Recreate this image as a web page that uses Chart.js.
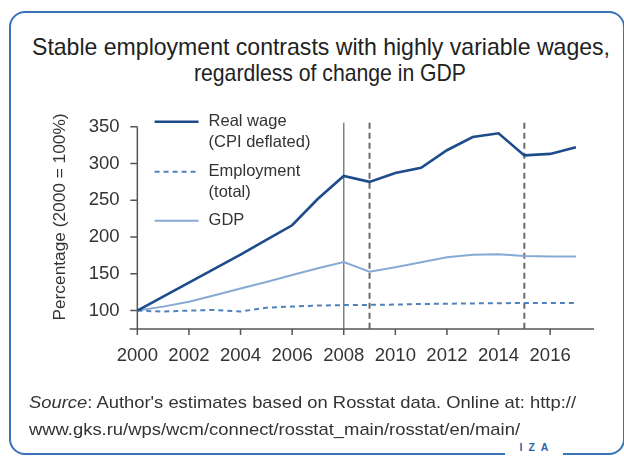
<!DOCTYPE html>
<html>
<head>
<meta charset="utf-8">
<script src="https://cdn.jsdelivr.net/npm/chart.js@4/dist/chart.umd.min.js"></script>
<style>
  html, body { margin: 0; padding: 0; background: #fff; }
  body { width: 624px; height: 458px; position: relative; overflow: hidden; }
  #frame {
    position: absolute; left: 9px; top: 11px; width: 612px; height: 440px;
    border: 2px solid #3a72b8; border-radius: 16px; box-sizing: content-box;
  }
  .fit {
    position: absolute; white-space: nowrap; transform-origin: 0 0;
    font-family: "Liberation Sans", Arial, sans-serif; color: #333;
  }
  .title { font-size: 24px; line-height: 28px; color: #222; }
  .src { font-size: 17px; line-height: 20px; }
  #logo {
    position: absolute; left: 505px; top: 440px; width: 58px; height: 16px;
    background: #fff; text-align: center;
    font-family: "Liberation Sans", sans-serif; font-weight: bold;
    font-size: 10.5px; letter-spacing: 6px; color: #2f62a8; line-height: 12px;
    padding-left: 6px; padding-top: 1px; box-sizing: border-box;
  }
  canvas { position: absolute; left: 0; top: 0; }
</style>
</head>
<body>
<div id="frame"></div>
<div class="fit title" data-left="32" data-top="33" data-width="578">Stable employment contrasts with highly variable wages,</div>
<div class="fit title" data-left="194" data-top="59" data-width="272">regardless of change in GDP</div>
<canvas id="chart" width="624" height="458"></canvas>
<div class="fit src" data-left="29" data-top="393" data-width="547"><i>Source</i>: Author's estimates based on Rosstat data. Online at: http://</div>
<div class="fit src" data-left="29" data-top="420" data-width="491">www.gks.ru/wps/wcm/connect/rosstat_main/rosstat/en/main/</div>
<div id="logo">IZA</div>
<script>
// Index values, 2000 = 100
const years = [2000, 2001, 2002, 2003, 2004, 2005, 2006, 2007, 2008,
               2009, 2010, 2011, 2012, 2013, 2014, 2015, 2016, 2017];
const realWage = [100, 119, 138, 157, 176, 196, 216, 252, 283,
                  275, 287, 294, 318, 336, 341, 311, 313, 322];
const employment = [100, 98.7, 100, 100.9, 98.7, 104, 105.5, 106.9, 107.5,
                    107.8, 108.2, 109, 109.4, 109.8, 110, 110.5, 110.5, 110.5];
const gdp = [100, 105.4, 112, 121, 130, 139, 148.5, 157.6, 166,
             153, 159, 165.7, 172.5, 176, 176.6, 174.3, 173.4, 173.4];

const seriesLabels = ["Real wage\n(CPI deflated)", "Employment\n(total)", "GDP"];
const xTickYears = [2000, 2002, 2004, 2006, 2008, 2010, 2012, 2014, 2016];
const yTickValues = [100, 150, 200, 250, 300, 350];
const markerYears = [2008, 2009, 2015];
const markerDashed = [false, true, true];
const yAxisTitle = "Percentage (2000 = 100%)";

const FONT = "'Liberation Sans', Arial, sans-serif";
const TEXT = "#333";

// Place each text line and stretch it to its line width
document.querySelectorAll(".fit").forEach(el => {
  el.style.left = el.dataset.left + "px";
  el.style.top = el.dataset.top + "px";
  const w = el.getBoundingClientRect().width;
  el.style.transform = "scaleX(" + (parseFloat(el.dataset.width) / w) + ")";
});

const toPoints = arr => years.map((y, i) => ({ x: y, y: arr[i] }));

// Axis lines, tick marks and the vertical event markers
const axesPlugin = {
  id: "axesLines",
  beforeDatasetsDraw(chart) {
    const { ctx, chartArea: a, scales: { x, y } } = chart;
    ctx.save();
    markerYears.forEach((yr, i) => {
      const px = x.getPixelForValue(yr);
      ctx.beginPath();
      if (markerDashed[i]) {
        ctx.setLineDash([6, 4]);
        ctx.strokeStyle = "#6a6a6a";
        ctx.lineWidth = 2;
      } else {
        ctx.setLineDash([]);
        ctx.strokeStyle = "#808080";
        ctx.lineWidth = 1.5;
      }
      ctx.moveTo(px, a.top - 4);
      ctx.lineTo(px, a.bottom);
      ctx.stroke();
    });
    ctx.setLineDash([]);
    ctx.strokeStyle = "#555";
    ctx.lineWidth = 1.5;
    const x0 = x.getPixelForValue(years[0]);
    ctx.beginPath();
    ctx.moveTo(x0, y.getPixelForValue(yTickValues[yTickValues.length - 1]));
    ctx.lineTo(x0, a.bottom);
    yTickValues.forEach(v => {
      const py = y.getPixelForValue(v);
      ctx.moveTo(x0 - 7, py);
      ctx.lineTo(x0, py);
    });
    ctx.moveTo(a.left, a.bottom);
    ctx.lineTo(a.right, a.bottom);
    xTickYears.forEach(v => {
      const px = x.getPixelForValue(v);
      ctx.moveTo(px, a.bottom);
      ctx.lineTo(px, a.bottom + 6);
    });
    ctx.stroke();
    // rotated y axis title
    ctx.translate(60, 217);
    ctx.rotate(-Math.PI / 2);
    ctx.font = "17.3px " + FONT;
    ctx.fillStyle = TEXT;
    ctx.textAlign = "center";
    ctx.textBaseline = "middle";
    ctx.fillText(yAxisTitle, 0, 0);
    ctx.restore();
  }
};

// Legend with multi-line labels placed inside the plot
const legendPlugin = {
  id: "innerLegend",
  afterDraw(chart) {
    const { ctx, chartArea: a } = chart;
    const rows = [a.top - 5, a.top + 45, a.top + 94];
    ctx.save();
    chart.data.datasets.forEach((ds, i) => {
      const ly = rows[i];
      ctx.beginPath();
      ctx.strokeStyle = ds.borderColor;
      ctx.lineWidth = ds.borderWidth;
      ctx.setLineDash(ds.borderDash || []);
      ctx.moveTo(a.left + 25, ly);
      ctx.lineTo(a.left + 69, ly);
      ctx.stroke();
      ctx.setLineDash([]);
      ctx.font = "16.5px " + FONT;
      ctx.fillStyle = TEXT;
      ctx.textBaseline = "middle";
      ds.label.split("\n").forEach((t, j) => {
        ctx.fillText(t, a.left + 79, ly + j * 21);
      });
    });
    ctx.restore();
  }
};

new Chart(document.getElementById("chart"), {
  type: "line",
  data: {
    datasets: [
      { label: seriesLabels[0], data: toPoints(realWage), borderColor: "#1d4b8c",
        borderWidth: 2.6, pointRadius: 0, tension: 0 },
      { label: seriesLabels[1], data: toPoints(employment), borderColor: "#4f81bd",
        borderWidth: 2, borderDash: [5, 4], pointRadius: 0, tension: 0 },
      { label: seriesLabels[2], data: toPoints(gdp), borderColor: "#86aad3",
        borderWidth: 2, pointRadius: 0, tension: 0 }
    ]
  },
  options: {
    responsive: false,
    animation: false,
    layout: { padding: { left: 45, top: 126.7, right: 30, bottom: 0 } },
    plugins: { legend: { display: false }, tooltip: { enabled: false } },
    scales: {
      x: {
        type: "linear", min: 1999.7, max: 2017.7,
        afterBuildTicks: s => { s.ticks = xTickYears.map(v => ({ value: v })); },
        afterFit: s => { s.height = 129; },
        grid: { display: false, drawTicks: false },
        border: { display: false },
        ticks: { callback: v => String(v), font: { size: 18.5, family: FONT }, color: TEXT, padding: 16, maxRotation: 0 }
      },
      y: {
        min: 75, max: 350,
        afterBuildTicks: s => { s.ticks = yTickValues.map(v => ({ value: v })); },
        afterFit: s => { s.width = 84.6; },
        grid: { display: false, drawTicks: false },
        border: { display: false },
        ticks: { font: { size: 18.5, family: FONT }, color: TEXT, padding: 10 }
      }
    }
  },
  plugins: [axesPlugin, legendPlugin]
});
</script>
</body>
</html>
